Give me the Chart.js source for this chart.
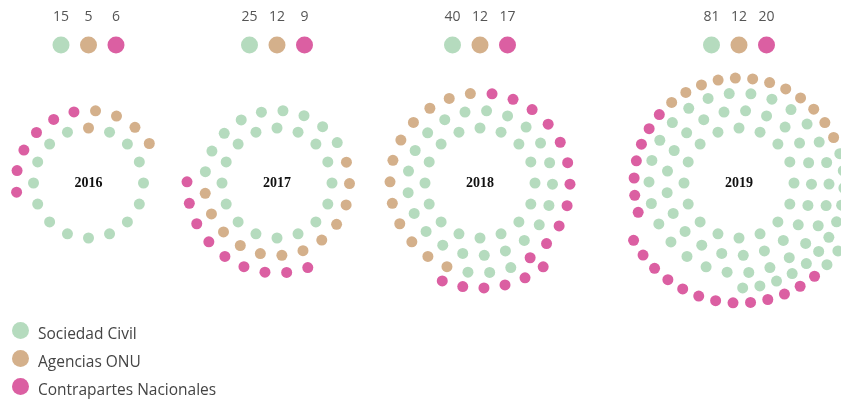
<!DOCTYPE html>
<html lang="es">
<head>
<meta charset="utf-8">
<script src="https://cdn.jsdelivr.net/npm/chart.js@4.4.1/dist/chart.umd.min.js"></script>
<style>
  html, body { margin: 0; padding: 0; background: #fff; }
  #contenedor { position: relative; width: 841px; height: 400px; }
  #leyenda { position: absolute; left: 0; top: 0; font-family: "Open Sans", sans-serif; font-size: 15.5px; color: #444; }
  .texto { position: absolute; white-space: nowrap; line-height: 20px; }
  .punto { position: absolute; width: 17px; height: 17px; border-radius: 50%; }
</style>
</head>
<body>
<div id="contenedor">
  <canvas id="grafico" width="841" height="400"></canvas>
  <div id="leyenda"></div>
</div>
<script>
var anios = ['2016', '2017', '2018', '2019'];
var categorias = ['Sociedad Civil', 'Agencias ONU', 'Contrapartes Nacionales'];
var sociedadCivil = [15, 25, 40, 81];
var agenciasONU = [5, 12, 12, 12];
var contrapartes = [6, 9, 17, 20];

var series = [sociedadCivil, agenciasONU, contrapartes];
var colores = ['#b5dbbe', '#d4b08b', '#db5fa2'];

// disposicion de los anillos (solo layout)
var centrosX = [88.5, 277, 480, 739];
var centroY = 183;
var radios = [55, 72.5, 90, 105, 120];
var yCabecera = 45, yNumeros = 17, sepCabecera = 27.5;

// por grupo: tramos de anillo (r = indice de radio, ini = grados desde las 12 en sentido horario,
// dir = sentido, n = huecos del anillo, tope = cuantos puntos caben en el tramo)
var planes = [
    [{ r: 0, ini: 22.5, dir: 1, n: 16 }, { r: 1, ini: 57, dir: -1, n: 21 }],
    [{ r: 0, ini: 0, dir: 1, n: 16 }, { r: 1, ini: 279, dir: 1, n: 21 }, { r: 2, ini: 160, dir: 1, n: 26 }],
    [{ r: 0, ini: 0, dir: 1, n: 16 }, { r: 1, ini: 5.2, dir: 1, n: 21 }, { r: 2, ini: 160, dir: 1, n: 26 },
     { r: 3, ini: 143, dir: 1, n: 31 }],
    [{ r: 0, ini: 0, dir: 1, n: 16 }, { r: 1, ini: 5.2, dir: 1, n: 21 }, { r: 2, ini: 7.6, dir: 1, n: 26 },
     { r: 4, ini: 91, dir: 1, n: 43, tope: 6 }, { r: 3, ini: 178, dir: -1, n: 38, tope: 31 },
     { r: 4, ini: 141, dir: 1, n: 43 }]
];

function generarPuntos() {
    var puntos = [[], [], []];
    anios.forEach(function (anio, g) {
        var secuencia = [];
        series.forEach(function (s, c) {
            for (var i = 0; i < s[g]; i++) secuencia.push(c);
        });
        var k = 0;
        planes[g].forEach(function (tramo) {
            var cap = tramo.tope || tramo.n;
            for (var j = 0; j < cap && k < secuencia.length; j++) {
                var ang = (tramo.ini + tramo.dir * j * 360 / tramo.n) * Math.PI / 180;
                puntos[secuencia[k]].push({
                    x: centrosX[g] + radios[tramo.r] * Math.sin(ang),
                    y: centroY - radios[tramo.r] * Math.cos(ang)
                });
                k++;
            }
        });
    });
    return puntos;
}

var puntos = generarPuntos();

var cabecera = [], coloresCabecera = [];
anios.forEach(function (anio, g) {
    series.forEach(function (s, c) {
        cabecera.push({ x: centrosX[g] + (c - 1) * sepCabecera, y: yCabecera });
        coloresCabecera.push(colores[c]);
    });
});

var datasets = categorias.map(function (nombre, c) {
    return {
        label: nombre,
        data: puntos[c],
        backgroundColor: colores[c],
        borderWidth: 0,
        pointRadius: 5.5,
        pointHoverRadius: 5.5
    };
});
datasets.push({
    label: 'cabecera',
    data: cabecera,
    backgroundColor: coloresCabecera,
    borderWidth: 0,
    pointRadius: 8.5,
    pointHoverRadius: 8.5
});

var textos = {
    id: 'textos',
    afterDatasetsDraw: function (chart) {
        var ctx = chart.ctx, sx = chart.scales.x, sy = chart.scales.y;
        ctx.save();
        ctx.textAlign = 'center';
        ctx.textBaseline = 'middle';
        anios.forEach(function (anio, g) {
            ctx.font = 'bold 14px "Liberation Serif"';
            ctx.fillStyle = '#111';
            ctx.fillText(anio, sx.getPixelForValue(centrosX[g]), sy.getPixelForValue(centroY));
            ctx.font = '14px "Open Sans"';
            ctx.fillStyle = '#555';
            series.forEach(function (s, c) {
                ctx.fillText(String(s[g]), sx.getPixelForValue(centrosX[g] + (c - 1) * sepCabecera), sy.getPixelForValue(yNumeros));
            });
        });
        ctx.restore();
    }
};

new Chart(document.getElementById('grafico').getContext('2d'), {
    type: 'scatter',
    data: { datasets: datasets },
    options: {
        responsive: false,
        animation: false,
        layout: { padding: 0, autoPadding: false },
        plugins: { legend: { display: false }, tooltip: { enabled: false } },
        scales: {
            x: { type: 'linear', min: 0, max: 841, display: false },
            y: { type: 'linear', min: 0, max: 400, reverse: true, display: false }
        }
    },
    plugins: [textos]
});

// leyenda inferior
var leyendaHTML = '';
categorias.forEach(function (nombre, c) {
    var yc = 330.5 + c * 28;
    leyendaHTML += '<div class="punto" style="left:12px;top:' + (yc - 8.5) + 'px;background:' + colores[c] + '"></div>';
    leyendaHTML += '<div class="texto" style="left:38px;top:' + (yc + 2.5 - 10) + 'px">' + nombre + '</div>';
});
document.getElementById('leyenda').innerHTML = leyendaHTML;
</script>
</body>
</html>
